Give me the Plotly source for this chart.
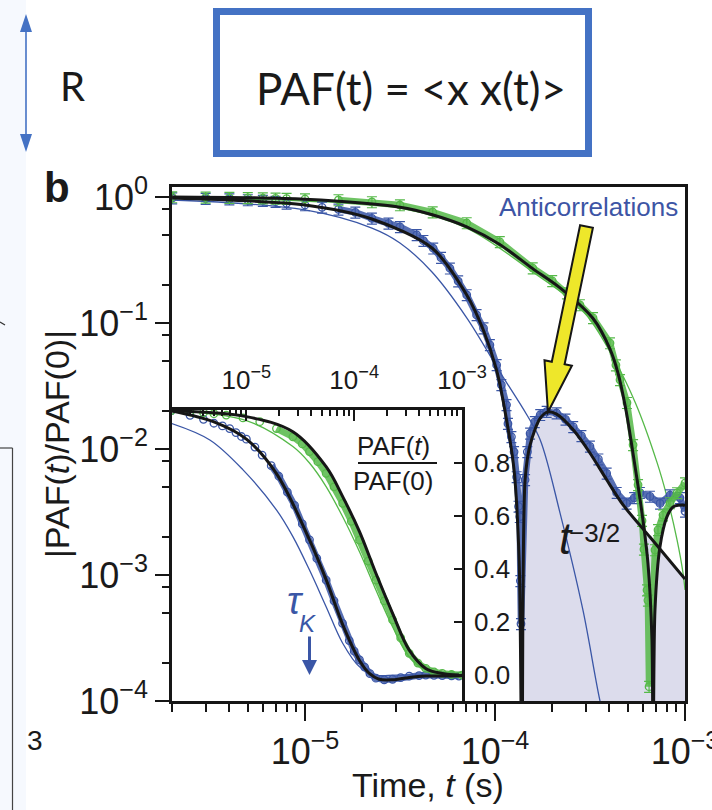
import plotly.graph_objects as go
import math

W, H = 712, 810

# ---------------- main panel: |PAF(t)/PAF(0)| (log-log) ----------------
blue_t = [2e-6, 3e-6, 4e-6, 5e-6, 6e-6, 7e-6, 8e-6, 1.0e-5, 1.23e-5, 1.5e-5, 1.84e-5, 2.25e-5,
          2.75e-5, 3.16e-5, 3.87e-5, 4.2e-5, 4.73e-5, 5.2e-5, 5.79e-5, 6.4e-5, 7.1e-5, 8.0e-5,
          8.7e-5, 9.4e-5, 1.02e-4, 1.08e-4, 1.15e-4, 1.17e-4, 1.22e-4, 1.26e-4, 1.30e-4, 1.33e-4,
          1.35e-4, 1.36e-4, 1.37e-4, 1.44e-4, 1.48e-4, 1.53e-4, 1.62e-4, 1.73e-4, 1.87e-4, 2.11e-4,
          2.35e-4, 2.58e-4, 2.85e-4, 3.16e-4, 3.5e-4, 3.87e-4, 4.37e-4, 4.93e-4, 5.4e-4, 5.79e-4,
          6.54e-4, 7.39e-4, 8.34e-4, 9.41e-4, 1.0e-3]
blue_v = [0.98, 0.97, 0.964, 0.947, 0.935, 0.918, 0.891, 0.864, 0.828, 0.799, 0.756, 0.677,
          0.618, 0.58, 0.50, 0.45, 0.392, 0.33, 0.272, 0.215, 0.167, 0.116,
          0.091, 0.067, 0.0465, 0.0323, 0.0224, 0.0159, 0.0125, 0.0095, 0.006, 0.0035,
          0.0029, 0.0009, 0.00041, 0.0057, 0.0095, 0.0133, 0.0164, 0.0187, 0.0198, 0.0193,
          0.0172, 0.0150, 0.0127, 0.0105, 0.0083, 0.0064, 0.0045, 0.0037, 0.0041, 0.0045,
          0.0042, 0.0037, 0.0043, 0.0041, 0.0032]

blue_fit_t = [2e-6, 1e-5, 2.25e-5, 4.66e-5, 7.1e-5, 8.68e-5, 1.02e-4, 1.15e-4, 1.26e-4, 1.34e-4,
              1.387e-4, 1.44e-4, 1.53e-4, 1.73e-4, 1.90e-4, 2.11e-4, 2.58e-4, 3.16e-4, 3.87e-4,
              4.72e-4, 6.54e-4, 1.0e-3]
blue_fit_v = [0.98, 0.864, 0.669, 0.394, 0.167, 0.088, 0.042, 0.0171, 0.0068, 0.0013,
              2e-5, 0.0057, 0.0108, 0.0176, 0.0197, 0.0189, 0.0142, 0.0093, 0.0057,
              0.0036, 0.0020, 0.00093]

blue_thin_t = [2e-6, 1e-5, 2.25e-5, 3.16e-5, 4.66e-5, 7.1e-5, 1.06e-4, 1.47e-4, 1.73e-4, 2.2e-4,
               2.9e-4, 3.57e-4, 4.0e-4]
blue_thin_v = [0.947, 0.789, 0.567, 0.432, 0.254, 0.11, 0.041, 0.0187, 0.0118, 0.0031,
               0.00053, 1.0e-4, 5e-5]

green_t = [2e-6, 3e-6, 4e-6, 5e-6, 6e-6, 7e-6, 8e-6, 1e-5, 1.5e-5, 2.25e-5, 3.16e-5, 4.7e-5,
           7.1e-5, 1.06e-4, 1.58e-4, 2.0e-4, 2.39e-4, 2.8e-4, 3.28e-4, 4.03e-4, 4.33e-4, 4.55e-4,
           4.95e-4, 5.33e-4, 5.66e-4, 5.94e-4, 6.08e-4, 6.31e-4, 6.38e-4, 6.47e-4, 6.95e-4,
           7.21e-4, 7.66e-4, 8.34e-4, 9.08e-4, 1.0e-3]
green_v = [1.0, 0.995, 0.99, 0.985, 0.98, 0.975, 0.97, 0.964, 0.947, 0.913, 0.864, 0.76,
           0.622, 0.44, 0.273, 0.216, 0.173, 0.139, 0.11, 0.0694, 0.0464, 0.0354,
           0.0233, 0.0108, 0.0052, 0.0027, 0.0016, 0.00076, 0.00063, 0.00013, 0.00158,
           0.00228, 0.00299, 0.00373, 0.00448, 0.00537]

green_fit_t = [2e-6, 1e-5, 3.16e-5, 4.73e-5, 7.1e-5, 1.06e-4, 1.58e-4, 2.2e-4, 3.29e-4, 4.03e-4,
               4.44e-4, 4.9e-4, 5.26e-4, 5.94e-4, 6.38e-4, 6.7e-4, 6.79e-4, 6.95e-4, 7.38e-4,
               8.03e-4, 8.65e-4, 9.76e-4, 1.0e-3]
green_fit_v = [1.0, 0.96, 0.83, 0.72, 0.58, 0.42, 0.27, 0.19, 0.108, 0.062,
               0.04, 0.02, 0.0104, 0.0031, 0.00125, 0.00031, 2e-5, 0.00053, 0.00167,
               0.00289, 0.00347, 0.0036, 0.00355]

green_thin_t = [2e-6, 1e-5, 3.16e-5, 7.1e-5, 1.58e-4, 2.9e-4, 4.18e-4, 5.5e-4, 7.13e-4, 8.03e-4,
                9.08e-4, 9.76e-4, 1.0e-3]
green_thin_v = [0.98, 0.93, 0.818, 0.567, 0.254, 0.125, 0.0535, 0.023, 0.0078, 0.0042,
                0.0019, 0.00104, 0.00076]

# ---------------- inset: PAF(t)/PAF(0) (linear y) ----------------
in_blue_t = [2e-6, 3e-6, 4e-6, 5e-6, 6e-6, 7e-6, 8e-6, 9e-6, 1e-5, 1.2e-5, 1.4e-5, 1.7e-5, 2.0e-5,
             2.4e-5, 2.8e-5, 3.3e-5, 3.85e-5, 4.5e-5, 5.5e-5, 6.5e-5, 7.8e-5, 9.0e-5, 1.0e-4,
             1.12e-4, 1.25e-4, 1.4e-4, 1.59e-4, 1.9e-4, 2.27e-4, 2.7e-4, 3.24e-4, 4.0e-4, 4.61e-4,
             5.5e-4, 6.56e-4, 8.0e-4, 9.37e-4]
in_blue_v = [0.997, 0.98, 0.965, 0.95, 0.94, 0.93, 0.915, 0.90, 0.89, 0.86, 0.83, 0.79, 0.75,
             0.69, 0.64, 0.57, 0.51, 0.44, 0.358, 0.28, 0.195, 0.13, 0.09,
             0.057, 0.03, 0.005, -0.012, -0.018, -0.016, -0.01, -0.004, -0.002, 0.0,
             -0.001, -0.002, -0.003, -0.004]
in_blue_fit_t = [2e-6, 5e-6, 1e-5, 1.9e-5, 3.85e-5, 5.49e-5, 7.82e-5, 1.12e-4, 1.4e-4, 1.7e-4,
                 2.27e-4, 3.24e-4, 4.61e-4, 6.56e-4, 1e-3]
in_blue_fit_v = [0.997, 0.955, 0.89, 0.76, 0.51, 0.36, 0.19, 0.055, 0.004, -0.016,
                 -0.018, -0.009, -0.004, -0.004, -0.003]
in_blue_thin_t = [2e-6, 4.58e-6, 9.31e-6, 1.9e-5, 2.7e-5, 3.85e-5, 5.49e-5, 7.82e-5, 1.12e-4,
                  1.59e-4, 2.5e-4, 1e-3]
in_blue_thin_v = [0.95, 0.887, 0.774, 0.623, 0.522, 0.396, 0.258, 0.12, 0.031, 0.0, 0.0, 0.0]

in_green_t = [2e-6, 3e-6, 4e-6, 5e-6, 6.5e-6, 9.3e-6, 1.33e-5, 1.9e-5, 2.7e-5, 3.3e-5, 3.85e-5,
              4.6e-5, 5.49e-5, 6.5e-5, 7.82e-5, 9.4e-5, 1.12e-4, 1.35e-4, 1.59e-4, 1.9e-4, 2.27e-4,
              2.7e-4, 3.24e-4, 3.9e-4, 4.61e-4, 5.5e-4, 6.56e-4, 8.0e-4, 1e-3]
in_green_v = [0.997, 0.993, 0.99, 0.986, 0.981, 0.97, 0.956, 0.93, 0.899, 0.872, 0.843,
              0.805, 0.761, 0.71, 0.648, 0.58, 0.509, 0.43, 0.358, 0.28, 0.208,
              0.14, 0.082, 0.045, 0.025, 0.012, 0.006, 0.002, 0.0]
in_green_fit_t = [2e-6, 1e-5, 2.7e-5, 5.49e-5, 7.82e-5, 1.12e-4, 1.59e-4, 2.27e-4, 3.24e-4,
                  4.61e-4, 6.56e-4, 9.37e-4]
in_green_fit_v = [0.997, 0.975, 0.918, 0.786, 0.673, 0.541, 0.384, 0.233, 0.094, 0.025, 0.006, 0.0]
in_green_thin_t = [2e-6, 1e-5, 2.7e-5, 3.85e-5, 5.49e-5, 7.82e-5, 1.12e-4, 1.59e-4, 2.27e-4,
                   3.24e-4, 4.61e-4, 1e-3]
in_green_thin_v = [0.997, 0.96, 0.862, 0.80, 0.711, 0.597, 0.465, 0.321, 0.182, 0.069, 0.02, 0.0]

tau_K = 3.85e-5

main_xticks = [1e-5, 1e-4, 1e-3]
main_xticktext = ["10<sup>−5</sup>", "10<sup>−4</sup>", "10<sup>−3</sup>"]
main_yticks = [1, 1e-1, 1e-2, 1e-3, 1e-4]
main_yticktext = ["10<sup>0</sup>", "10<sup>−1</sup>", "10<sup>−2</sup>", "10<sup>−3</sup>", "10<sup>−4</sup>"]
inset_yticks = [0.0, 0.2, 0.4, 0.6, 0.8]
inset_yticktext = ["0.0", "0.2", "0.4", "0.6", "0.8"]

BLUE = "#3A56A6"
GREEN = "#55B948"
BLACK = "#161616"
SHADE = "#DCDCEC"
FONT = "Liberation Sans"

X_RANGE = [-5.7, -3]
Y_RANGE = [-4, 0.0794]
X2_RANGE = [-5.69, -3]
Y2_RANGE = [-0.098, 1.0]


def px(x):
    return x / W


def py(y):
    return 1 - y / H


fig = go.Figure()

# shaded anticorrelation region (under blue fit, from its zero crossing on)
i0 = blue_fit_v.index(min(blue_fit_v))
floor = 10 ** (Y_RANGE[0] - 1)
shade_x = blue_fit_t[i0:] + [blue_fit_t[-1], blue_fit_t[i0]]
shade_y = blue_fit_v[i0:] + [floor, floor]
fig.add_trace(go.Scatter(x=shade_x, y=shade_y, mode="lines", fill="toself", fillcolor=SHADE,
                         line=dict(width=0, color=SHADE), xaxis="x", yaxis="y", hoverinfo="skip"))

# thin model lines
fig.add_trace(go.Scatter(x=blue_thin_t, y=blue_thin_v, mode="lines",
                         line=dict(color=BLUE, width=1.3, shape="spline"), xaxis="x", yaxis="y"))
fig.add_trace(go.Scatter(x=green_thin_t, y=green_thin_v, mode="lines",
                         line=dict(color=GREEN, width=1.3, shape="spline"), xaxis="x", yaxis="y"))


def data_traces(t, v, color, xa, ya, errors, band_from=1.5e-5, band_w=6.5):
    bt = [a for a in t if a >= band_from]
    bv = [b for a, b in zip(t, v) if a >= band_from]
    fig.add_trace(go.Scatter(x=bt, y=bv, mode="lines", opacity=0.85,
                             line=dict(color=color, width=band_w), xaxis=xa, yaxis=ya))
    kw = {}
    if errors:
        kw["error_y"] = dict(type="percent", value=10, color=color, thickness=1.2, width=5)
    fig.add_trace(go.Scatter(x=t, y=v, mode="markers",
                             marker=dict(symbol="circle-open", size=7.5, color=color,
                                         line=dict(width=1.3, color=color)),
                             xaxis=xa, yaxis=ya, **kw))


data_traces(blue_t, blue_v, BLUE, "x", "y", True)
data_traces(green_t, green_v, GREEN, "x", "y", True)

fig.add_trace(go.Scatter(x=blue_fit_t, y=blue_fit_v, mode="lines",
                         line=dict(color=BLACK, width=3, shape="spline", smoothing=0.8),
                         xaxis="x", yaxis="y"))
fig.add_trace(go.Scatter(x=green_fit_t, y=green_fit_v, mode="lines",
                         line=dict(color=BLACK, width=3, shape="spline", smoothing=0.8),
                         xaxis="x", yaxis="y"))

# ---- inset traces ----
fig.add_trace(go.Scatter(x=in_green_thin_t, y=in_green_thin_v, mode="lines",
                         line=dict(color=GREEN, width=1.3, shape="spline"), xaxis="x2", yaxis="y2"))
fig.add_trace(go.Scatter(x=in_blue_thin_t, y=in_blue_thin_v, mode="lines",
                         line=dict(color=BLUE, width=1.3, shape="spline"), xaxis="x2", yaxis="y2"))
data_traces(in_blue_t, in_blue_v, BLUE, "x2", "y2", False)
data_traces(in_green_t, in_green_v, GREEN, "x2", "y2", False)
fig.add_trace(go.Scatter(x=in_blue_fit_t, y=in_blue_fit_v, mode="lines",
                         line=dict(color=BLACK, width=3, shape="spline"), xaxis="x2", yaxis="y2"))
fig.add_trace(go.Scatter(x=in_green_fit_t, y=in_green_fit_v, mode="lines",
                         line=dict(color=BLACK, width=3, shape="spline"), xaxis="x2", yaxis="y2"))


def minor_log(lo, hi, mult):
    vals = []
    for e in range(lo, hi):
        for m in mult:
            vals.append(m * 10 ** e)
    return vals


axis_common = dict(showgrid=False, zeroline=False, showline=True, linecolor=BLACK,
                   tickcolor=BLACK, mirror=True, automargin=False)

fig.update_layout(
    width=W, height=H, margin=dict(l=0, r=0, t=0, b=0, autoexpand=False),
    paper_bgcolor="white", plot_bgcolor="white", showlegend=False,
    font=dict(family=FONT, color="#1a1a1a"),
    xaxis=dict(type="log", range=X_RANGE, domain=[px(172), px(685)], anchor="y",
               linewidth=2.6, ticks="outside", ticklen=17, tickwidth=2.2,
               tickvals=main_xticks, ticktext=main_xticktext, tickfont=dict(size=36),
               ticklabeloverflow="allow",
               minor=dict(tickvals=minor_log(-6, -3, range(2, 10)), ticks="outside",
                          ticklen=8, tickwidth=2, tickcolor=BLACK, showgrid=False),
               **axis_common),
    yaxis=dict(type="log", range=Y_RANGE, domain=[py(701), py(187)], anchor="x",
               linewidth=2.6, ticks="outside", ticklen=14, tickwidth=2.2,
               tickvals=main_yticks, ticktext=main_yticktext, tickfont=dict(size=36),
               minor=dict(tickvals=minor_log(-4, 0, [2, 5, 8]), ticks="outside",
                          ticklen=7, tickwidth=2, tickcolor=BLACK, showgrid=False),
               **axis_common),
    xaxis2=dict(type="log", range=X2_RANGE, domain=[px(172), px(462)], anchor="y2", side="top",
                linewidth=2.6, ticks="inside", ticklen=11, tickwidth=2,
                tickvals=main_xticks, ticktext=main_xticktext, tickfont=dict(size=26),
                ticklabelstandoff=8,
                minor=dict(tickvals=minor_log(-6, -3, range(2, 10)), ticks="inside",
                           ticklen=6, tickwidth=1.8, tickcolor=BLACK, showgrid=False),
                **axis_common),
    yaxis2=dict(range=Y2_RANGE, domain=[py(701), py(410)], anchor="x2", side="right",
                linewidth=2.6, ticks="inside", ticklen=8, tickwidth=2,
                tickvals=inset_yticks, ticktext=inset_yticktext, tickfont=dict(size=26),
                ticklabelstandoff=4, **axis_common),
)

# dashed zero line in inset
fig.add_shape(type="line", xref="x2 domain", yref="y2", x0=0, x1=1, y0=0, y1=0,
              line=dict(color=BLACK, width=1.6, dash="dash"), layer="below")
# tau_K arrow
fig.add_annotation(x=math.log10(tau_K), y=0, xref="x2", yref="y2", ax=0, ay=-40, text="",
                   showarrow=True, arrowhead=2, arrowsize=1, arrowwidth=3, arrowcolor=BLUE,
                   standoff=0)

# yellow arrow (annotation graphic, paper coords)
arrow_pts = [(580.1, 225.2), (592.9, 227.8), (564.6, 364.3), (571.9, 365.8), (548, 412),
             (544.5, 360.2), (551.8, 361.7)]
path = "M " + " L ".join(f"{px(x):.5f},{py(y):.5f}" for x, y in arrow_pts) + " Z"
fig.add_shape(type="path", xref="paper", yref="paper", path=path, fillcolor="#EEE72A",
              line=dict(color=BLACK, width=2), layer="above")

# fraction line for PAF(t)/PAF(0)
fig.add_shape(type="line", xref="paper", yref="paper", x0=px(358), x1=px(437), y0=py(463), y1=py(463),
              line=dict(color=BLACK, width=2), layer="above")

# ---- top decoration: box with formula, double arrow, R ----
fig.add_shape(type="rect", xref="paper", yref="paper", x0=0, x1=px(26), y0=0, y1=1,
              fillcolor="#F6F9FE", line=dict(width=0), layer="below")
fig.add_shape(type="rect", xref="paper", yref="paper", x0=px(216.5), x1=px(588.5), y0=py(153.5), y1=py(11.5),
              line=dict(color="#4472C4", width=7), fillcolor="rgba(0,0,0,0)", layer="above")
fig.add_shape(type="line", xref="paper", yref="paper", x0=px(26), x1=px(26), y0=py(28), y1=py(138),
              line=dict(color="#4472C4", width=1.6), layer="above")
for tip, base in [(14, 32), (152, 134)]:
    p = f"M {px(26):.5f},{py(tip):.5f} L {px(20):.5f},{py(base):.5f} L {px(32):.5f},{py(base):.5f} Z"
    fig.add_shape(type="path", xref="paper", yref="paper", path=p, fillcolor="#4472C4",
                  line=dict(width=0), layer="above")
# clipped neighbouring panel remnants
fig.add_shape(type="line", xref="paper", yref="paper", x0=0, x1=px(12.5), y0=py(448), y1=py(448),
              line=dict(color="#444", width=1.2), layer="above")
fig.add_shape(type="line", xref="paper", yref="paper", x0=px(12.5), x1=px(12.5), y0=py(448), y1=0,
              line=dict(color="#444", width=1.2), layer="above")
fig.add_shape(type="line", xref="paper", yref="paper", x0=0, x1=px(5), y0=py(322), y1=py(325),
              line=dict(color="#333", width=1.2), layer="above")


def ann(text, x, y, size, color="#1a1a1a", family=FONT, angle=0, xanchor="center"):
    fig.add_annotation(text=text, x=px(x), y=py(y), xref="paper", yref="paper", showarrow=False,
                       xanchor=xanchor, yanchor="middle", textangle=angle,
                       font=dict(size=size, color=color, family=family))


ann("<b>b</b>", 57, 188, 42)
ann("|PAF(<i>t</i>)/PAF(0)|", 57, 444, 34, angle=-90)
ann("Time, <i>t</i> (s)", 428, 785, 34)
ann("Anticorrelations", 588, 207, 26, color="#3D55A5")
ann("<i>t</i>", 566, 538, 44)
ann("−3/2", 594, 533, 26)
ann("PAF(<i>t</i>)", 393, 446, 26)
ann("PAF(0)", 393, 481, 26)
ann("<i>τ</i>", 295, 601, 38, color=BLUE)
ann("<i>K</i>", 307, 623, 24, color=BLUE)
ann("3", 35, 740, 28)
ann("R", 72, 86, 40, family="Lato")
ann("PAF(t) = &lt;x x(t)&gt;", 411, 88, 44, family="Lato")

fig.write_html("out.html", config={"displayModeBar": False},
               post_script="document.body.style.margin='0';document.body.style.overflow='hidden';")
